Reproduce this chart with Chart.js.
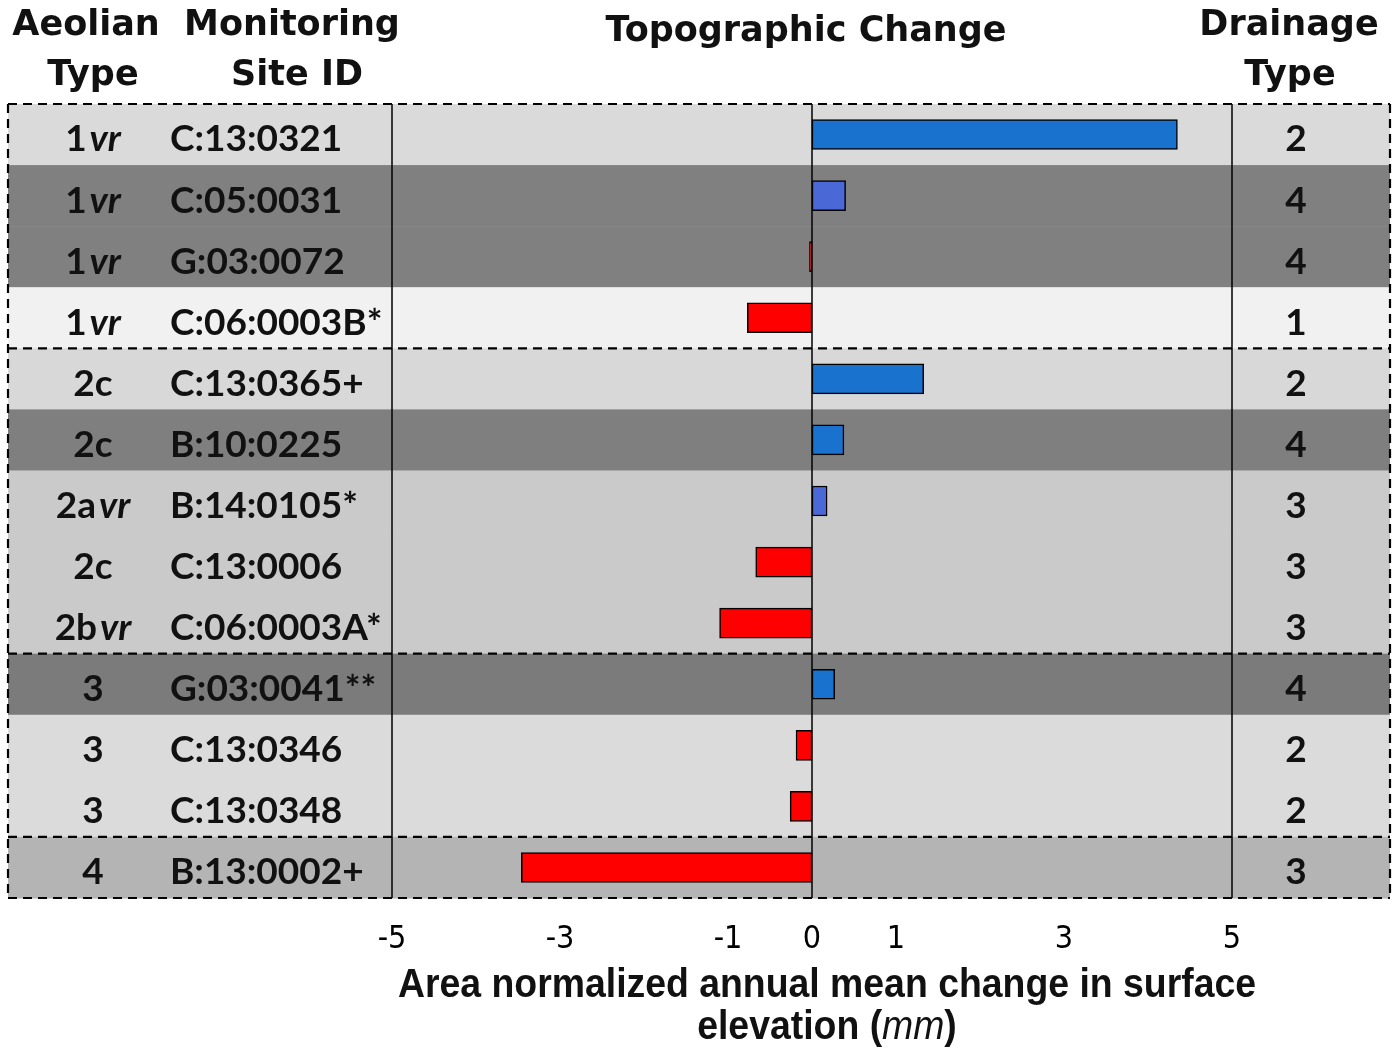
<!DOCTYPE html>
<html>
<head>
<meta charset="utf-8">
<script src="https://cdn.jsdelivr.net/npm/chart.js@4.4.0/dist/chart.umd.min.js"></script>
<style>
  html, body { margin: 0; padding: 0; background: #fff; }
</style>
</head>
<body>
<canvas id="topoChart" width="1393" height="1052"></canvas>
<script>
// data
const siteIds = ['C:13:0321', 'C:05:0031', 'G:03:0072', 'C:06:0003B*', 'C:13:0365+', 'B:10:0225',
                 'B:14:0105*', 'C:13:0006', 'C:06:0003A*', 'G:03:0041**', 'C:13:0346', 'C:13:0348', 'B:13:0002+'];
const aeolianTypes = ['1vr', '1vr', '1vr', '1vr', '2c', '2c', '2avr', '2c', '2bvr', '3', '3', '3', '4'];
const drainageTypes = ['2', '4', '4', '1', '2', '4', '3', '3', '3', '4', '2', '2', '3'];
const changeMm = [4.35, 0.40, -0.03, -0.77, 1.33, 0.38, 0.18, -0.67, -1.10, 0.27, -0.19, -0.26, -3.46];
const groupSizes = [4, 5, 3, 1];
const xTicks = [-5, -3, -1, 0, 1, 3, 5];

// styles
const rowShades = ['#dadada', '#808080', '#808080', '#f1f1f1', '#d8d8d8', '#7f7f7f',
                   '#cacaca', '#cacaca', '#cacaca', '#7b7b7b', '#dbdbdb', '#dbdbdb', '#b4b4b4'];
const barColors = changeMm.map((v, i) => v < 0 ? '#ff0000' : (i === 1 || i === 6 ? '#4a68d6' : '#1a72cf'));
const tableLeft = 8, tableRight = 1390;
const bodyFont = 'bold 37px Lato';
const headFont = 'bold 35px "DejaVu Sans"';
const narrow = '"Liberation Sans Narrow", "DejaVu Sans Condensed", sans-serif';

function drawAeolian(ctx, label, cx, cy) {
    const m = label.match(/^(\d[a-z]?)(vr)?$/);
    const plain = m ? m[1] : label;
    const ital = m && m[2] ? m[2] : '';
    ctx.font = bodyFont;
    const w1 = ctx.measureText(plain).width;
    ctx.font = 'italic ' + bodyFont;
    const w2 = ital ? ctx.measureText(ital).width + 3 : 0;
    const x = cx - (w1 + w2) / 2;
    ctx.textAlign = 'left';
    ctx.font = bodyFont;
    ctx.fillText(plain, x, cy);
    if (ital) {
        ctx.font = 'italic ' + bodyFont;
        ctx.fillText(ital, x + w1 + 3, cy);
    }
}

// condensed bold text: Liberation Sans squeezed to look like Arial Narrow
function drawSqueezed(ctx, parts, cx, cy, sx) {
    ctx.save();
    ctx.translate(cx, cy);
    ctx.scale(sx, 1);
    ctx.textAlign = 'left';
    const widths = parts.map(p => { ctx.font = p.font; return ctx.measureText(p.text).width; });
    let x = -widths.reduce((a, b) => a + b, 0) / 2;
    parts.forEach((p, i) => {
        ctx.font = p.font;
        ctx.fillText(p.text, x, 0);
        x += widths[i];
    });
    ctx.restore();
}

const tablePlugin = {
    id: 'tablePlugin',
    beforeDraw(chart) {
        const { ctx, scales: { y } } = chart;
        const half = (y.getPixelForValue(1) - y.getPixelForValue(0)) / 2;
        ctx.save();
        ctx.fillStyle = '#fff';
        ctx.fillRect(0, 0, chart.width, chart.height);
        siteIds.forEach((id, i) => {
            const c = y.getPixelForValue(i);
            ctx.fillStyle = rowShades[i];
            ctx.fillRect(tableLeft, c - half, tableRight - tableLeft, half * 2 + 0.5);
        });
        ctx.restore();
    },
    afterDatasetsDraw(chart) {
        const { ctx, chartArea, scales: { x, y } } = chart;
        const half = (y.getPixelForValue(1) - y.getPixelForValue(0)) / 2;
        const top = y.getPixelForValue(0) - half;
        const bottom = y.getPixelForValue(siteIds.length - 1) + half;
        ctx.save();

        // solid verticals: plot edges and zero line
        ctx.strokeStyle = '#000';
        ctx.lineWidth = 1.5;
        [chartArea.left, chartArea.right, x.getPixelForValue(0)].forEach(px => {
            ctx.beginPath();
            ctx.moveTo(px, top);
            ctx.lineTo(px, bottom);
            ctx.stroke();
        });

        // dashed group borders
        ctx.setLineDash([9, 6]);
        ctx.lineWidth = 2.2;
        let idx = 0;
        const edges = [top];
        groupSizes.forEach(n => {
            idx += n;
            edges.push(y.getPixelForValue(idx - 1) + half);
        });
        edges.forEach(py => {
            ctx.beginPath();
            ctx.moveTo(tableLeft, py);
            ctx.lineTo(tableRight, py);
            ctx.stroke();
        });
        [tableLeft, tableRight].forEach(px => {
            ctx.beginPath();
            ctx.moveTo(px, top);
            ctx.lineTo(px, bottom);
            ctx.stroke();
        });
        ctx.setLineDash([]);

        // table text
        ctx.fillStyle = '#111';
        ctx.textBaseline = 'middle';
        siteIds.forEach((id, i) => {
            const cy = y.getPixelForValue(i) + 5;
            drawAeolian(ctx, aeolianTypes[i], 93, cy);
            ctx.font = bodyFont;
            ctx.textAlign = 'left';
            ctx.fillText(id, 170, cy);
            ctx.textAlign = 'center';
            ctx.fillText(drainageTypes[i], 1296, cy);
        });

        // headers
        ctx.font = headFont;
        ctx.textAlign = 'center';
        ctx.fillText('Aeolian', 86, 26);
        ctx.fillText('Type', 93, 76);
        ctx.fillText('Monitoring', 292, 26);
        ctx.fillText('Site ID', 297, 76);
        ctx.fillText('Topographic Change', 806, 32);
        ctx.fillText('Drainage', 1289, 26);
        ctx.fillText('Type', 1290, 76);

        // x axis title
        const bold = 'bold 41px "Liberation Sans", Arial, sans-serif';
        const ital = 'italic 41px "Liberation Sans", Arial, sans-serif';
        const line1 = 'Area normalized annual mean change in surface';
        ctx.font = bold;
        const sx = 858 / ctx.measureText(line1).width;
        drawSqueezed(ctx, [{ text: line1, font: bold }], 827, 986, sx);
        drawSqueezed(ctx, [
            { text: 'elevation (', font: bold },
            { text: 'mm', font: ital },
            { text: ')', font: bold }
        ], 827, 1028, sx);
        ctx.restore();
    }
};

new Chart(document.getElementById('topoChart'), {
    type: 'bar',
    data: {
        labels: siteIds,
        datasets: [{
            data: changeMm,
            backgroundColor: barColors,
            borderColor: '#000',
            borderWidth: 1.5,
            borderSkipped: false,
            barThickness: 30
        }]
    },
    options: {
        indexAxis: 'y',
        responsive: false,
        animation: false,
        layout: { padding: { left: 392, right: 161, top: 104, bottom: 0 } },
        plugins: {
            legend: { display: false },
            tooltip: { enabled: false }
        },
        scales: {
            x: {
                min: -5,
                max: 5,
                afterBuildTicks: s => { s.ticks = xTicks.map(v => ({ value: v })); },
                afterFit: s => { s.height = 154; },
                grid: { display: false, drawTicks: false },
                border: { display: false },
                ticks: {
                    color: '#000',
                    padding: 22,
                    autoSkip: false,
                    maxRotation: 0,
                    font: { family: narrow, size: 32 }
                }
            },
            y: { display: false }
        }
    },
    plugins: [tablePlugin]
});
</script>
</body>
</html>
